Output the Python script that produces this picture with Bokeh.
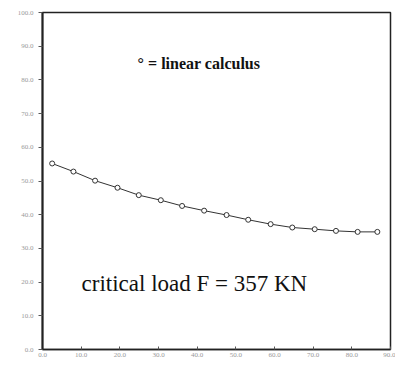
from bokeh.plotting import figure
from bokeh.models import Range1d, FixedTicker, PrintfTickFormatter, Label
from bokeh.embed import file_html
from bokeh.resources import INLINE

# data
x_vals = [2.5, 8.0, 13.6, 19.4, 24.9, 30.6, 36.1, 41.8, 47.6, 53.2, 59.0, 64.6, 70.4, 75.9, 81.5, 86.6]
y_vals = [55.2, 52.8, 50.1, 48.0, 45.8, 44.3, 42.6, 41.2, 39.9, 38.5, 37.2, 36.2, 35.7, 35.2, 34.9, 34.9]
x_ticks = [0, 10, 20, 30, 40, 50, 60, 70, 80, 90]
y_ticks = [0, 10, 20, 30, 40, 50, 60, 70, 80, 90, 100]
legend_text = "° = linear calculus"
note_text = "critical load  F  =  357  KN"

p = figure(width=395, height=362, output_backend="svg", toolbar_location=None,
           x_range=Range1d(0, 90), y_range=Range1d(0, 100),
           min_border_left=42, min_border_right=5, min_border_top=12, min_border_bottom=13)
p.grid.visible = False
p.outline_line_color = "#222222"
p.outline_line_width = 1.5
p.background_fill_color = "white"
p.border_fill_color = "white"

p.xaxis.ticker = FixedTicker(ticks=x_ticks)
p.yaxis.ticker = FixedTicker(ticks=y_ticks)
p.xaxis.formatter = PrintfTickFormatter(format="%.1f")
p.yaxis.formatter = PrintfTickFormatter(format="%.1f")
for ax in (p.xaxis, p.yaxis):
    ax.major_label_text_font = "Liberation Serif"
    ax.major_label_text_font_size = "7px"
    ax.major_label_text_color = "#999999"
    ax.minor_tick_line_color = None
    ax.major_tick_line_color = "#555555"
    ax.axis_line_color = "#222222"
p.yaxis.axis_line_width = 2
p.xaxis.axis_line_width = 1.5
p.xaxis.major_tick_in = 3
p.xaxis.major_tick_out = 0
p.xaxis.major_label_standoff = 3
p.yaxis.major_tick_in = 0
p.yaxis.major_tick_out = 4
p.yaxis.major_label_standoff = 5

p.line(x_vals, y_vals, line_color="#333333", line_width=1)
p.scatter(x_vals, y_vals, marker="circle", size=5, fill_color="white",
          line_color="#333333", line_width=1)

p.add_layout(Label(x=24.6, y=82.2, text=legend_text, text_font="Liberation Serif",
                   text_font_size="16px", text_font_style="bold", text_color="#111111"))
p.add_layout(Label(x=10.1, y=16.0, text=note_text, text_font="Liberation Serif",
                   text_font_size="23px", text_color="#111111"))

open("out.html", "w").write(file_html(p, INLINE))
